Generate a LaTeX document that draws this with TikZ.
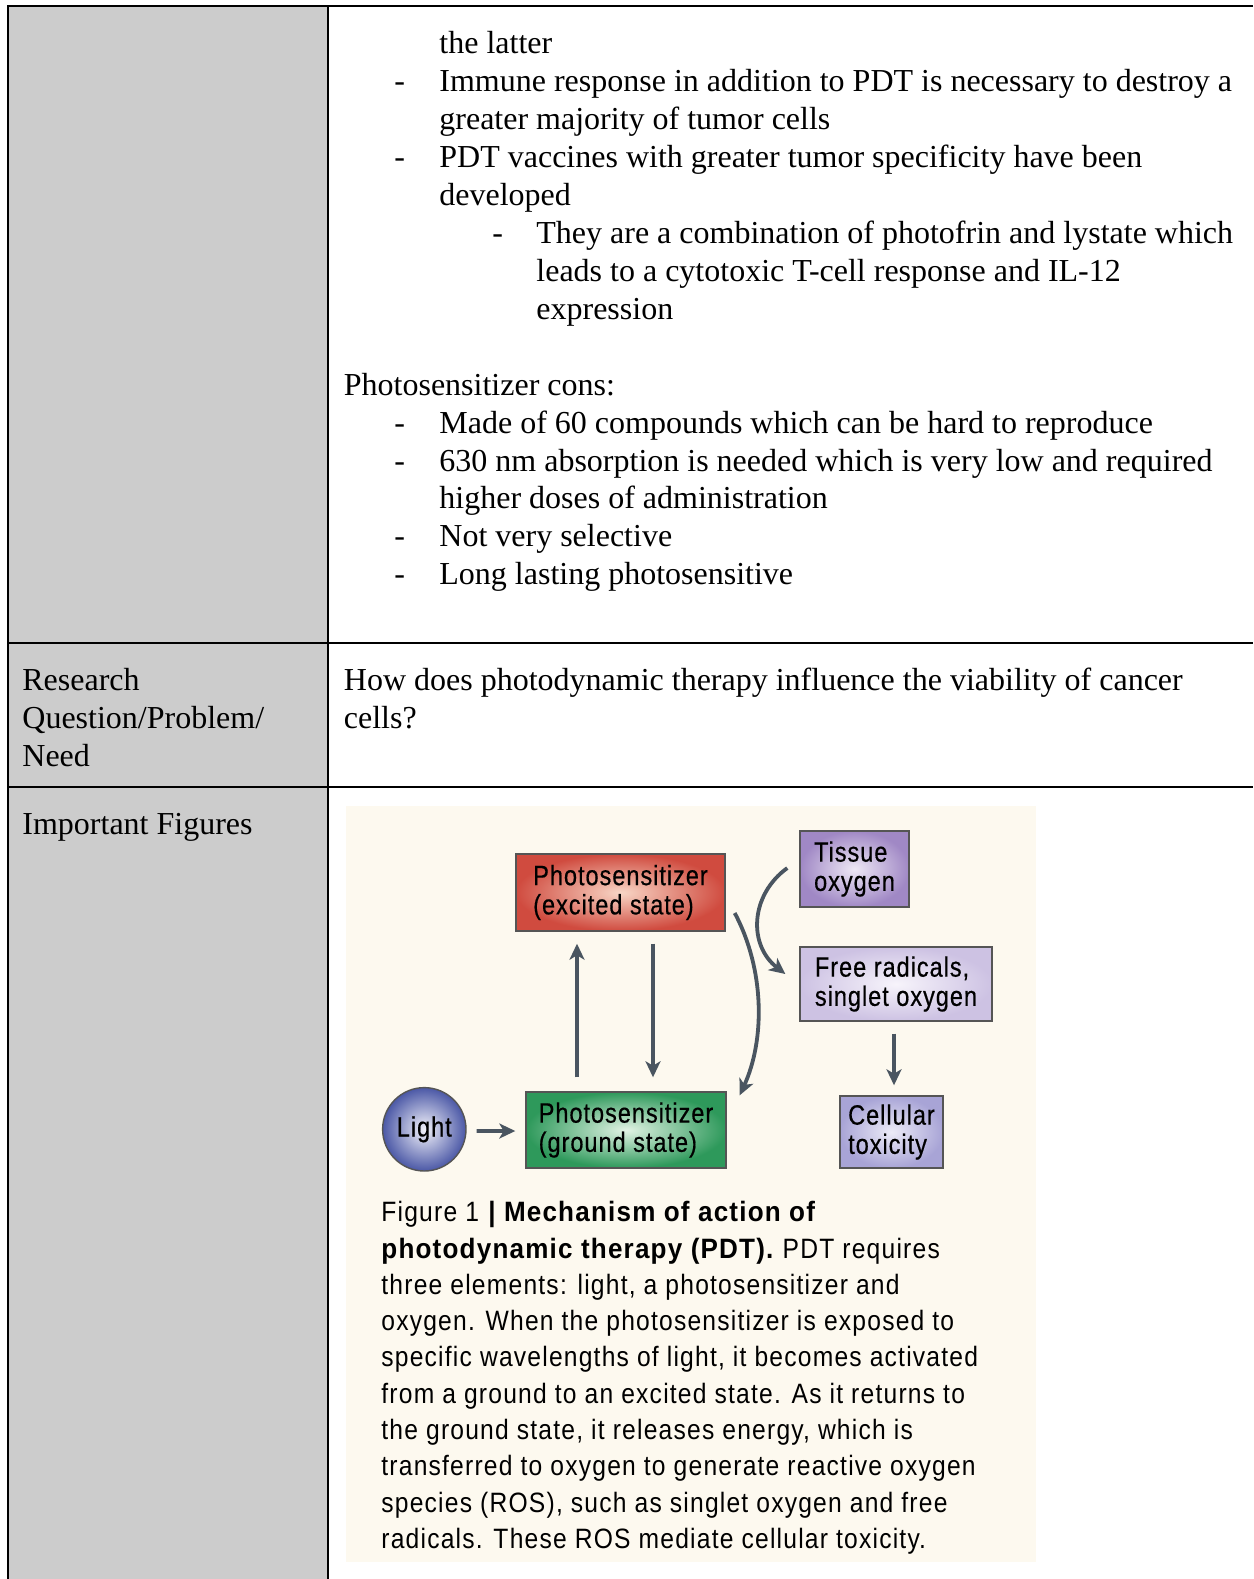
\documentclass[tikz,border=0pt]{standalone}
\usepackage{fontspec}
\setmainfont{Liberation Serif}
\newfontfamily\figfont[FakeStretch=0.88,LetterSpace=4.3,BoldFeatures={FakeStretch=0.93}]{Liberation Sans}
\newfontfamily\boxfont[FakeStretch=0.84,LetterSpace=3.5,FakeBold=0.5]{Liberation Sans}
\usetikzlibrary{arrows.meta,calc}
\definecolor{cellgray}{HTML}{CCCCCC}
\definecolor{figbg}{HTML}{FDF9EF}
\definecolor{arrcol}{HTML}{4A5560}
\definecolor{boxline}{HTML}{555555}
\begin{document}
\begin{tikzpicture}[x=0.5pt,y=-0.5pt,
  tline/.style={line width=1.4pt,black},
  tx/.style={inner sep=0pt,anchor=base west,font=\fontsize{16pt}{19pt}\selectfont},
  captxt/.style={inner sep=0pt,anchor=base west,font=\figfont\fontsize{14pt}{18pt}\selectfont},
  fbox/.style={draw=boxline,line width=0.7pt,inner sep=0pt,align=left,
    font=\boxfont\fontsize{14pt}{14.6pt}\selectfont},
  arr/.style={draw=arrcol,line width=1.9pt,-{Stealth[length=8pt,width=7.5pt,inset=2.2pt]}}]
\useasboundingbox (0,0) rectangle (1253,1579);
\fill[white] (0,0) rectangle (1253,1579);
\fill[cellgray] (8,6) rectangle (328,1579);
\fill[figbg] (346,806) rectangle (1036,1562);
\draw[tline] (1253,6) -- (8,6) -- (8,1579);
\draw[tline] (328,6) -- (328,1579);
\draw[tline] (8,643) -- (1253,643);
\draw[tline] (8,787) -- (1253,787);
% upper text
\node[tx] (l1) at (439,53.5) {the latter};
\node[tx] (d2) at (394,91.5) {-};
\node[tx] (l2) at (439,91.5) {Immune response in addition to PDT is necessary to destroy a};
\node[tx] (l3) at (439,129.4) {greater majority of tumor cells};
\node[tx] (d4) at (394,167.4) {-};
\node[tx] (l4) at (439,167.4) {PDT vaccines with greater tumor specificity have been};
\node[tx] (l5) at (439,205.3) {developed};
\node[tx] (d6) at (492,243.3) {-};
\node[tx] (l6) at (536,243.3) {They are a combination of photofrin and lystate which};
\node[tx] (l7) at (536,281.2) {leads to a cytotoxic T-cell response and IL-12};
\node[tx] (l8) at (536,319.2) {expression};
\node[tx] (l9) at (343.5,395.1) {Photosensitizer cons:};
\node[tx] (d10) at (394,433.0) {-};
\node[tx] (l10) at (439,433.0) {Made of 60 compounds which can be hard to reproduce};
\node[tx] (d11) at (394,471.0) {-};
\node[tx] (l11) at (439,471.0) {630 nm absorption is needed which is very low and required};
\node[tx] (l12) at (439,508.9) {higher doses of administration};
\node[tx] (d13) at (394,546.9) {-};
\node[tx] (l13) at (439,546.9) {Not very selective};
\node[tx] (d14) at (394,584.8) {-};
\node[tx] (l14) at (439,584.8) {Long lasting photosensitive};
% row 2
\node[tx] (r1) at (22,690.3) {Research};
\node[tx] (r2) at (22,728.5) {Question/Problem/};
\node[tx] (r3) at (22,766.8) {Need};
\node[tx] (q1) at (343.5,690.3) {How does photodynamic therapy influence the viability of cancer};
\node[tx] (q2) at (343.5,728.5) {cells?};
\node[tx] (f1) at (22,834.3) {Important Figures};
% figure nodes
\node[fbox,minimum width=104.5pt,minimum height=38.5pt,shading=radial,inner color={rgb,255:red,248;green,214;blue,198},outer color={rgb,255:red,208;green,75;blue,63}] (red) at (620.5,892.5) {Photosensitizer\\(excited state)};
\node[fbox,minimum width=54.5pt,minimum height=38pt,shading=radial,inner color={rgb,255:red,238;green,232;blue,245},outer color={rgb,255:red,160;green,136;blue,197}] (tissue) at (854.5,869) {Tissue\\oxygen};
\node[fbox,minimum width=96pt,minimum height=37pt,shading=radial,inner color={rgb,255:red,247;green,244;blue,251},outer color={rgb,255:red,205;green,194;blue,227}] (free) at (896,984) {Free radicals,\\singlet oxygen};
\node[fbox,minimum width=51.5pt,minimum height=36pt,shading=radial,inner color={rgb,255:red,236;green,235;blue,247},outer color={rgb,255:red,168;green,164;blue,214}] (cell) at (891.5,1132) {Cellular\\toxicity};
\node[fbox,minimum width=100pt,minimum height=38pt,shading=radial,inner color={rgb,255:red,226;green,243;blue,228},outer color={rgb,255:red,46;green,153;blue,91}] (green) at (626,1130) {Photosensitizer\\(ground state)};
\node[fbox,circle,minimum size=41.7pt,shading=radial,inner color={rgb,255:red,242;green,242;blue,250},outer color={rgb,255:red,75;green,88;blue,166}] (light) at (424.3,1129.3) {Light};
% arrows
\draw[arr] ($(light.east)+(10,1.7)$) -- ($(green.west)+(-10,1)$);
\draw[arr] ($(green.north)+(-49,-14)$) -- ($(red.south)+(-43.5,12)$);
\draw[arr] ($(red.south)+(32.5,12)$) -- ($(green.north)+(27,-14)$);
\draw[arr] ($(red.east)+(9,20.5)$) .. controls (765,970) and (765,1040) .. ($(green.north east)+(13,4)$);
\draw[arr] ($(tissue.west)+(-12,-1)$) .. controls (750,895) and (748,945) .. ($(free.west)+(-14,-10)$);
\draw[arr] ($(free.south)+(-2,12)$) -- ($(cell.north)+(2.5,-10)$);
% caption
\node[captxt] (c1) at (381,1221.7) {Figure 1 \textbf{| Mechanism of action of}};
\node[captxt] (c2) at (381,1258.0) {\textbf{photodynamic therapy (PDT).} PDT requires};
\node[captxt] (c3) at (381,1294.3) {three elements: light, a photosensitizer and};
\node[captxt] (c4) at (381,1330.6) {oxygen. When the photosensitizer is exposed to};
\node[captxt] (c5) at (381,1366.9) {specific wavelengths of light, it becomes activated};
\node[captxt] (c6) at (381,1403.2) {from a ground to an excited state. As it returns to};
\node[captxt] (c7) at (381,1439.5) {the ground state, it releases energy, which is};
\node[captxt] (c8) at (381,1475.8) {transferred to oxygen to generate reactive oxygen};
\node[captxt] (c9) at (381,1512.1) {species (ROS), such as singlet oxygen and free};
\node[captxt] (c10) at (381,1548.4) {radicals. These ROS mediate cellular toxicity.};
\end{tikzpicture}
\end{document}
